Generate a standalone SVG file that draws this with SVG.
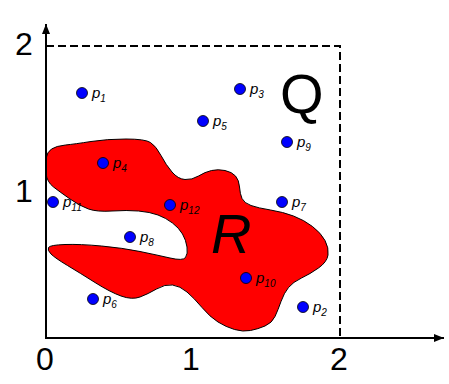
<svg xmlns="http://www.w3.org/2000/svg" width="449" height="384" viewBox="0 0 449 384">
<style>
.ax{stroke:#000;stroke-width:2;fill:none}
.dash{stroke:#000;stroke-width:2;fill:none;stroke-dasharray:8 4}
.num{font-family:"Liberation Sans",Arial,sans-serif;font-size:32px;fill:#000;text-anchor:middle}
.pt{fill:#0000ff;stroke:#000;stroke-width:0.8}
.p{font-family:"Liberation Sans",Arial,sans-serif;font-style:italic;font-size:15px;fill:#000}
.s{font-size:10px}
.big{font-family:"Liberation Sans",Arial,sans-serif;font-size:56px;fill:#000}
</style>
<defs>
<marker id="arr" viewBox="0 0 10 8" refX="10" refY="4" markerWidth="10" markerHeight="8" markerUnits="userSpaceOnUse" orient="auto">
<path d="M0,0 L10,4 L0,8 Z" fill="#000"/>
</marker>
</defs>
<rect width="449" height="384" fill="#fff"/>
<g id="region-R">
<path d="M46,173.5 Q45,165 46,158.5 Q47,152 51.5,149 Q56,146 65.5,145 Q75,144 91,141.5 Q107,139 126,139 Q145,139 150.5,142.5 Q156,146 161,155.5 Q166,165 172,172 Q178,179 185,179.5 Q192,180 198.5,176 Q205,172 211.5,170.5 Q218,169 225,170.5 Q232,172 235.5,176 Q239,180 239.5,187 Q240,194 242,198.5 Q244,203 251,205.5 Q258,208 270.5,210 Q283,212 293.5,216 Q304,220 312.5,226.5 Q321,233 325,240.5 Q329,248 328,255 Q327,262 318.5,268 Q310,274 301.5,278 Q293,282 288.5,287.5 Q284,293 281,301.5 Q278,310 275,316.5 Q272,323 265,326 Q258,329 250.5,330.5 Q243,332 234.5,329.5 Q226,327 218,322 Q210,317 202,307.5 Q194,298 187,292 Q180,286 172.5,285 Q165,284 156.5,289 Q148,294 140,297 Q132,300 121,296 Q110,292 95,282.5 Q80,273 67.5,265.5 Q55,258 51,254 Q47,250 48.5,247.5 Q50,245 65,244.5 Q80,244 101.5,246 Q123,248 140,251.5 Q157,255 170,258 Q183,261 185.5,257.5 Q188,254 187,247 Q186,240 182.5,234 Q179,228 172.5,223 Q166,218 158,215 Q150,212 138.5,211 Q127,210 112,211 Q97,212 88.5,209 Q80,206 70,199 Q60,192 53.5,187 Q47,182 46,173.5 Z" fill="#ff0000" stroke="#000" stroke-width="1"/>
<text class="big" font-style="italic" x="211" y="253">R</text>
</g>
<g id="region-Q">
<path class="dash" d="M46,46 H340 V338"/>
<text class="big" x="280" y="113">Q</text>
</g>
<g id="axes">
<line class="ax" x1="46" y1="338" x2="46" y2="24" marker-end="url(#arr)"/>
<line class="ax" x1="45" y1="338" x2="444" y2="338" marker-end="url(#arr)"/>
<text class="num" x="45" y="370">0</text>
<text class="num" x="191" y="370">1</text>
<text class="num" x="339" y="370">2</text>
<text class="num" x="24" y="55">2</text>
<text class="num" x="24" y="202">1</text>
</g>
<g id="points">
<g id="p1"><circle class="pt" cx="82" cy="93" r="5.5"/><text class="p" x="92" y="98">p<tspan class="s" dy="4">1</tspan></text></g>
<g id="p2"><circle class="pt" cx="303" cy="307" r="5.5"/><text class="p" x="313" y="312">p<tspan class="s" dy="4">2</tspan></text></g>
<g id="p3"><circle class="pt" cx="240" cy="89" r="5.5"/><text class="p" x="250" y="94">p<tspan class="s" dy="4">3</tspan></text></g>
<g id="p4"><circle class="pt" cx="103" cy="163" r="5.5"/><text class="p" x="113" y="168">p<tspan class="s" dy="4">4</tspan></text></g>
<g id="p5"><circle class="pt" cx="203" cy="121" r="5.5"/><text class="p" x="213" y="126">p<tspan class="s" dy="4">5</tspan></text></g>
<g id="p6"><circle class="pt" cx="93" cy="299" r="5.5"/><text class="p" x="103" y="304">p<tspan class="s" dy="4">6</tspan></text></g>
<g id="p7"><circle class="pt" cx="282" cy="202" r="5.5"/><text class="p" x="292" y="207">p<tspan class="s" dy="4">7</tspan></text></g>
<g id="p8"><circle class="pt" cx="130" cy="237" r="5.5"/><text class="p" x="140" y="242">p<tspan class="s" dy="4">8</tspan></text></g>
<g id="p9"><circle class="pt" cx="287" cy="142" r="5.5"/><text class="p" x="297" y="147">p<tspan class="s" dy="4">9</tspan></text></g>
<g id="p10"><circle class="pt" cx="246" cy="278" r="5.5"/><text class="p" x="256" y="283">p<tspan class="s" dy="4">10</tspan></text></g>
<g id="p11"><circle class="pt" cx="53" cy="202" r="5.5"/><text class="p" x="63" y="207">p<tspan class="s" dy="4">11</tspan></text></g>
<g id="p12"><circle class="pt" cx="170" cy="205" r="5.5"/><text class="p" x="180" y="210">p<tspan class="s" dy="4">12</tspan></text></g>
</g>
</svg>
